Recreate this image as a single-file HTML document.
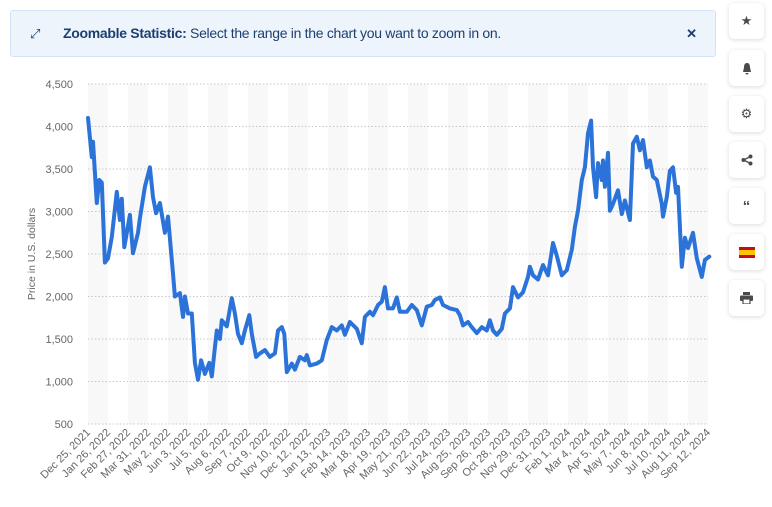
<!DOCTYPE html>
<html><head><meta charset="utf-8"><style>
body{margin:0;width:772px;height:507px;background:#fff;font-family:"Liberation Sans",sans-serif;overflow:hidden;position:relative}
.banner{position:absolute;left:10px;top:10px;width:704px;height:45px;background:#edf4fc;border:1px solid #d3e2f4;border-radius:3px;color:#1d3f70;font-size:14px;line-height:45px}
.banner .ic{position:absolute;left:19px;top:0;font-size:13px}
.banner .txt{position:absolute;left:52px;top:0;letter-spacing:-0.3px}
.banner .x{position:absolute;right:18px;top:0;font-weight:bold;font-size:13px}
.side{position:absolute;left:729px;width:35px;height:36px;background:#fff;border-radius:5px;box-shadow:0 1px 5px rgba(0,0,0,.15);display:flex;align-items:center;justify-content:center;color:#4a4a4a;font-size:13px}
</style></head><body>
<div class="banner">
<span class="ic">⤢</span>
<span class="txt"><b>Zoomable Statistic:</b> Select the range in the chart you want to zoom in on.</span>
<span class="x">✕</span>
</div>
<div class="side" style="top:3px">★</div>
<div class="side" style="top:50px"><svg width="12" height="13"><path d="M6 1C3.5 1 3 3.5 3 5.5L2 10h8L9 5.5C9 3.5 8.5 1 6 1zM4.5 11a1.5 1.5 0 003 0z" fill="#4a4a4a"/></svg></div>
<div class="side" style="top:96px">⚙</div>
<div class="side" style="top:142px"><svg width="12" height="12"><circle cx="9.5" cy="2.5" r="2" fill="#4a4a4a"/><circle cx="2.5" cy="6" r="2" fill="#4a4a4a"/><circle cx="9.5" cy="9.5" r="2" fill="#4a4a4a"/><path d="M9.5 2.5L2.5 6L9.5 9.5" stroke="#4a4a4a" stroke-width="1.3" fill="none"/></svg></div>
<div class="side" style="top:188px;font-weight:bold;font-size:15px">“</div>
<div class="side" style="top:234px"><svg width="16" height="11"><rect width="16" height="11" fill="#c60b1e"/><rect y="3" width="16" height="5" fill="#ffc400"/></svg></div>
<div class="side" style="top:280px"><svg width="13" height="12"><rect x="3" y="0" width="7" height="3" fill="#4a4a4a"/><rect x="0" y="3.5" width="13" height="5.5" rx="1" fill="#4a4a4a"/><rect x="3" y="7" width="7" height="5" fill="#fff" stroke="#4a4a4a" stroke-width="1.2"/></svg></div>
<svg id="chart" width="772" height="507" style="position:absolute;left:0;top:0"></svg>
<script>
const tickValues=[500,1000,1500,2000,2500,3000,3500,4000,4500];
const tickLabels=["500","1,000","1,500","2,000","2,500","3,000","3,500","4,000","4,500"];
const xLabels=["Dec 25, 2021","Jan 26, 2022","Feb 27, 2022","Mar 31, 2022","May 2, 2022","Jun 3, 2022","Jul 5, 2022","Aug 6, 2022","Sep 7, 2022","Oct 9, 2022","Nov 10, 2022","Dec 12, 2022","Jan 13, 2023","Feb 14, 2023","Mar 18, 2023","Apr 19, 2023","May 21, 2023","Jun 22, 2023","Jul 24, 2023","Aug 25, 2023","Sep 26, 2023","Oct 28, 2023","Nov 29, 2023","Dec 31, 2023","Feb 1, 2024","Mar 4, 2024","Apr 5, 2024","May 7, 2024","Jun 8, 2024","Jul 10, 2024","Aug 11, 2024","Sep 12, 2024"];
const dayOffsets=[0,6,8,14,18,22,27,32,38,46,51,54,58,67,72,80,83,91,99,104,109,115,123,128,136,139,147,152,155,160,166,171,176,181,187,194,198,203,206,211,214,222,230,235,240,246,251,258,262,269,275,283,291,299,304,310,314,318,326,331,339,347,350,355,366,374,382,390,398,406,411,419,430,438,443,451,456,464,470,475,480,488,494,499,510,518,526,534,542,550,555,563,568,579,590,595,600,608,614,622,630,638,643,648,654,662,667,675,680,688,696,704,707,712,720,728,736,744,750,758,766,774,779,784,790,795,800,805,808,813,816,822,824,827,832,835,840,848,854,859,867,872,878,883,888,894,899,904,910,918,920,926,931,936,941,944,950,955,960,968,974,982,987,994];
const prices=[4100,3640,3820,3100,3370,3340,2400,2450,2700,3230,2900,3150,2580,2960,2510,2750,2920,3290,3520,3170,2980,3100,2750,2940,2270,2000,2040,1760,2000,1800,1800,1220,1020,1250,1090,1220,1060,1400,1600,1500,1720,1650,1980,1800,1560,1450,1600,1780,1560,1290,1330,1370,1290,1330,1600,1640,1560,1110,1210,1140,1290,1250,1310,1190,1210,1250,1490,1640,1600,1660,1550,1700,1620,1450,1760,1820,1780,1900,1940,2110,1860,1860,1990,1820,1820,1900,1840,1660,1880,1900,1960,1990,1900,1860,1840,1780,1660,1700,1640,1570,1640,1600,1720,1600,1550,1620,1800,1860,2110,1990,2050,2230,2350,2250,2200,2370,2250,2630,2480,2250,2310,2550,2820,3010,3370,3520,3920,4070,3520,3170,3570,3370,3600,3290,3690,3010,3090,3250,2970,3130,2900,3800,3880,3720,3840,3520,3600,3410,3370,3090,2940,3170,3480,3520,3220,3290,2350,2690,2570,2750,2450,2230,2430,2470];
const NS="http://www.w3.org/2000/svg";
const svg=document.getElementById('chart');
const L=88,R=708,T=84,B=424;
const yS=v=>B-(v-500)/4000*(B-T);
const xS=d=>L+d/992*(R-L);
function mk(t,a){const e=document.createElementNS(NS,t);for(const k in a)e.setAttribute(k,a[k]);svg.appendChild(e);return e;}
for(let x=L;x<R;x+=40){const r=mk('rect',{x:x,y:T,width:20,height:B-T,fill:'#f8f8f8'});

}
tickValues.forEach((v,i)=>{const g=mk('line',{x1:L,x2:R,y1:yS(v),y2:yS(v),stroke:'#c8c8c8','stroke-dasharray':'1.5,2'});


const t=mk('text',{x:73,y:yS(v)+4,'text-anchor':'end','font-size':'11',fill:'#666'});t.textContent=tickLabels[i];

});
xLabels.forEach((s,i)=>{const x=xS(i*32)+3,y=433;const t=mk('text',{x:x,y:y,'text-anchor':'end','font-size':'11',fill:'#666',transform:`rotate(-45 ${x} ${y})`});t.textContent=s;

});
const yt=mk('text',{x:35,y:254,'text-anchor':'middle','font-size':'10.5',fill:'#666',transform:'rotate(-90 35 254)'});yt.textContent='Price in U.S. dollars';


const pts=prices.map((v,i)=>xS(dayOffsets[i]).toFixed(1)+','+yS(v).toFixed(1)).join(' ');
const pl=mk('polyline',{points:pts,fill:'none',stroke:'#2b73d9','stroke-width':'4','stroke-linejoin':'round','stroke-linecap':'round'});


</script>
</body></html>
